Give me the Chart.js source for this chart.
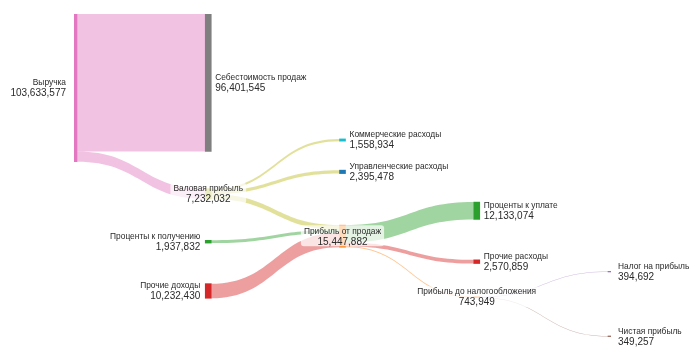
<!DOCTYPE html>
<html>
<head>
<meta charset="utf-8">
<script src="https://cdn.jsdelivr.net/npm/chart.js@4/dist/chart.umd.min.js"></script>
<style>
  html, body { margin: 0; padding: 0; background: #ffffff; }
  #wrap { width: 700px; height: 350px; position: relative; }
</style>
</head>
<body>
<div id="wrap"><canvas id="chart"></canvas></div>
<script>
// Nodes of the income statement flow
const nodeNames = [
  'Выручка',
  'Себестоимость продаж',
  'Валовая прибыль',
  'Коммерческие расходы',
  'Управленческие расходы',
  'Проценты к получению',
  'Прочие доходы',
  'Прибыль от продаж',
  'Проценты к уплате',
  'Прочие расходы',
  'Прибыль до налогообложения',
  'Налог на прибыль',
  'Чистая прибыль'
];

// Flows between nodes (index into nodeNames), amounts in roubles
const linkSource = [0, 0, 2, 2, 2, 5, 6, 7, 7, 7, 10, 10];
const linkTarget = [1, 2, 3, 4, 7, 7, 7, 8, 9, 10, 11, 12];
const linkValue = [
  96401545, 7232032,
  1558934, 2395478, 3277620,
  1937832, 10232430,
  12133074, 2570859, 743949,
  394692, 349257
];

// Layout: column of each node and the gap above it within its column (millions of roubles)
const nodeColumn = [0, 1, 1, 2, 2, 1, 1, 2, 3, 3, 3, 4, 4];
const nodeGapMln = [0, 0, 122.5, 87.6, 109.5, 158.7, 189.1, 148.1, 131.9, 172.4, 198.2, 180.5, 225.8];

// Styles
const nodeColors = ['#e377c2', '#7f7f7f', '#bcbd22', '#17becf', '#1f77b4', '#2ca02c', '#d62728',
                    '#ff7f0e', '#2ca02c', '#d62728', '#ff7f0e', '#9467bd', '#8c564b'];
const linkColors = ['#e377c2', '#e377c2', '#bcbd22', '#bcbd22', '#bcbd22', '#2ca02c', '#d62728',
                    '#2ca02c', '#d62728', '#ff7f0e', '#9467bd', '#8c564b'];
const LINK_ALPHA = 0.45;
const FONT = '"Liberation Sans", Arial, Helvetica, sans-serif';
const TEXT_COLOR = '#2a2a2a';

// Node totals = larger of inflow and outflow
const nodeIn = nodeNames.map(() => 0);
const nodeOut = nodeNames.map(() => 0);
linkValue.forEach((v, i) => { nodeOut[linkSource[i]] += v; nodeIn[linkTarget[i]] += v; });
const nodeValue = nodeNames.map((_, i) => Math.max(nodeIn[i], nodeOut[i]));

function withAlpha(hex, a) {
  const n = parseInt(hex.slice(1), 16);
  return `rgba(${(n >> 16) & 255},${(n >> 8) & 255},${n & 255},${a})`;
}

function nodeBox(chart, i) {
  const el = chart.getDatasetMeta(0).data[i];
  const top = Math.min(el.y, el.base), bottom = Math.max(el.y, el.base);
  return { left: el.x - el.width / 2, right: el.x + el.width / 2, cx: el.x,
           top, bottom, cy: (top + bottom) / 2 };
}

const sankeyPlugin = {
  id: 'sankeyFlows',
  beforeDatasetsDraw(chart) {
    const ctx = chart.ctx;
    const y = chart.scales.y;
    const px = v => Math.abs(y.getPixelForValue(v) - y.getPixelForValue(0));
    const boxes = nodeNames.map((_, i) => nodeBox(chart, i));
    const srcOff = {}, tgtOff = {};
    // stack outgoing flows by target position, incoming by source position
    nodeNames.forEach((_, n) => {
      let cur = boxes[n].top;
      linkValue.map((v, i) => i).filter(i => linkSource[i] === n)
        .sort((a, b) => boxes[linkTarget[a]].cy - boxes[linkTarget[b]].cy)
        .forEach(i => { srcOff[i] = cur; cur += px(linkValue[i]); });
      cur = boxes[n].top;
      linkValue.map((v, i) => i).filter(i => linkTarget[i] === n)
        .sort((a, b) => boxes[linkSource[a]].cy - boxes[linkSource[b]].cy)
        .forEach(i => { tgtOff[i] = cur; cur += px(linkValue[i]); });
    });
    ctx.save();
    linkValue.forEach((v, i) => {
      const s = boxes[linkSource[i]], t = boxes[linkTarget[i]];
      const h = px(v);
      const x0 = s.right, x1 = t.left, xm = (x0 + x1) / 2;
      const y0 = srcOff[i], y1 = tgtOff[i];
      ctx.beginPath();
      ctx.moveTo(x0, y0);
      ctx.bezierCurveTo(xm, y0, xm, y1, x1, y1);
      ctx.lineTo(x1, y1 + h);
      ctx.bezierCurveTo(xm, y1 + h, xm, y0 + h, x0, y0 + h);
      ctx.closePath();
      ctx.fillStyle = withAlpha(linkColors[i], LINK_ALPHA);
      ctx.fill();
    });
    ctx.restore();
  },
  afterDatasetsDraw(chart) {
    const ctx = chart.ctx;
    ctx.save();
    nodeNames.forEach((name, i) => {
      const b = nodeBox(chart, i);
      const valueText = nodeValue[i].toLocaleString('en-US');
      const nameFont = '8.4px ' + FONT, valueFont = '10px ' + FONT;
      const nameY = b.cy - 2.7, valueY = b.cy + 8.3;
      let x, align;
      if (nodeIn[i] > 0 && nodeOut[i] > 0) {
        x = b.cx; align = 'center';
        ctx.font = nameFont; const w1 = ctx.measureText(name).width;
        ctx.font = valueFont; const w2 = ctx.measureText(valueText).width;
        const w = Math.max(w1, w2) + 6;
        ctx.fillStyle = 'rgba(255,255,255,0.72)';
        ctx.beginPath();
        ctx.roundRect(x - w / 2, b.cy - 11, w, 21, 3);
        ctx.fill();
      } else if (nodeOut[i] > 0) {
        x = b.left - 5; align = 'right';
      } else {
        x = b.right + 4; align = 'left';
      }
      ctx.fillStyle = TEXT_COLOR;
      ctx.textAlign = align;
      ctx.textBaseline = 'alphabetic';
      ctx.font = nameFont;
      ctx.fillText(name, x, nameY);
      ctx.font = valueFont;
      ctx.fillText(valueText, x, valueY);
    });
    ctx.restore();
  }
};

new Chart(document.getElementById('chart'), {
  type: 'bar',
  data: {
    datasets: [{
      data: nodeNames.map((_, i) => {
        const top = nodeGapMln[i] * 1e6;
        return { x: nodeColumn[i], y: [top, top + nodeValue[i]] };
      }),
      backgroundColor: nodeColors,
      borderWidth: 0,
      barThickness: 6,
      grouped: false
    }]
  },
  options: {
    responsive: true,
    maintainAspectRatio: false,
    animation: false,
    layout: { padding: { left: 74, right: 89, top: 14, bottom: 13 } },
    scales: {
      x: { type: 'linear', min: 0, max: 4, display: false, offset: false },
      y: { type: 'linear', min: 0, max: 226.5e6, reverse: true, display: false }
    },
    plugins: { legend: { display: false }, tooltip: { enabled: false } }
  },
  plugins: [sankeyPlugin]
});
</script>
</body>
</html>
